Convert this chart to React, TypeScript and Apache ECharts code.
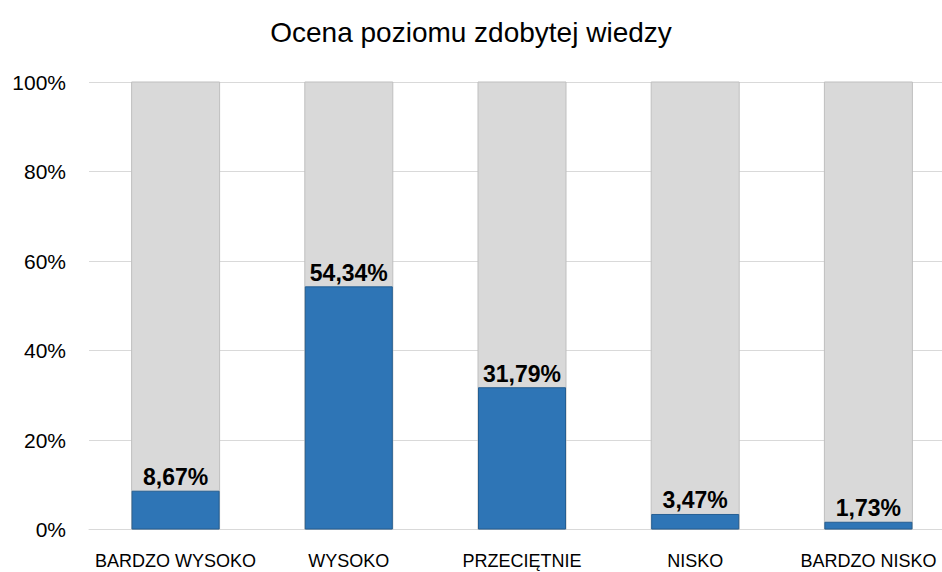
import React, { useEffect, useRef } from "react";
import * as echarts from "echarts";

const title = "Ocena poziomu zdobytej wiedzy";
const categories = ["BARDZO WYSOKO", "WYSOKO", "PRZECIĘTNIE", "NISKO", "BARDZO NISKO"];
const values = [8.67, 54.34, 31.79, 3.47, 1.73];
const yTicks = [0, 20, 40, 60, 80, 100];

export default function App() {
  const ref = useRef<HTMLDivElement>(null);
  useEffect(() => {
    if (!ref.current) return;
    const chart = echarts.init(ref.current, null, { renderer: "svg" });
    const font = "'Liberation Sans', Arial, sans-serif";
    chart.setOption({
      animation: false,
      title: {
        text: title,
        left: "center",
        top: 13,
        textStyle: { fontFamily: font, fontSize: 28, fontWeight: "normal", color: "#000" },
      },
      grid: { left: 89, width: 866, top: 82, bottom: 42.5, containLabel: false, outerBoundsMode: "none" },
      xAxis: {
        type: "category",
        data: categories,
        axisLine: { show: true, lineStyle: { color: "#D9D9D9", width: 1 } },
        axisTick: { show: false },
        axisLabel: { fontFamily: font, fontSize: 18, color: "#000", margin: 22, interval: 0 },
      },
      yAxis: {
        type: "value",
        min: yTicks[0],
        max: yTicks[yTicks.length - 1],
        interval: 20,
        axisLine: { show: false },
        axisTick: { show: false },
        splitLine: { lineStyle: { color: "#D9D9D9", width: 1 } },
        axisLabel: {
          fontFamily: font,
          fontSize: 21,
          color: "#000",
          margin: 23,
          formatter: (v: number) => `${v}%`,
        },
      },
      series: [
        {
          type: "bar",
          data: values,
          barWidth: 88,
          showBackground: true,
          backgroundStyle: { color: "#D9D9D9", borderColor: "#BFBFBF", borderWidth: 1 },
          itemStyle: { color: "#2E75B6", borderColor: "#245E92", borderWidth: 1 },
          label: {
            show: true,
            position: "top",
            distance: 2,
            fontFamily: font,
            fontSize: 23,
            fontWeight: "bold",
            color: "#000",
            formatter: (p: any) => `${p.value.toFixed(2).replace(".", ",")}%`,
          },
        },
      ],
    });
    return () => chart.dispose();
  }, []);
  return <div ref={ref} style={{ width: 942, height: 572, position: "absolute", left: 0, top: 0 }} />;
}
